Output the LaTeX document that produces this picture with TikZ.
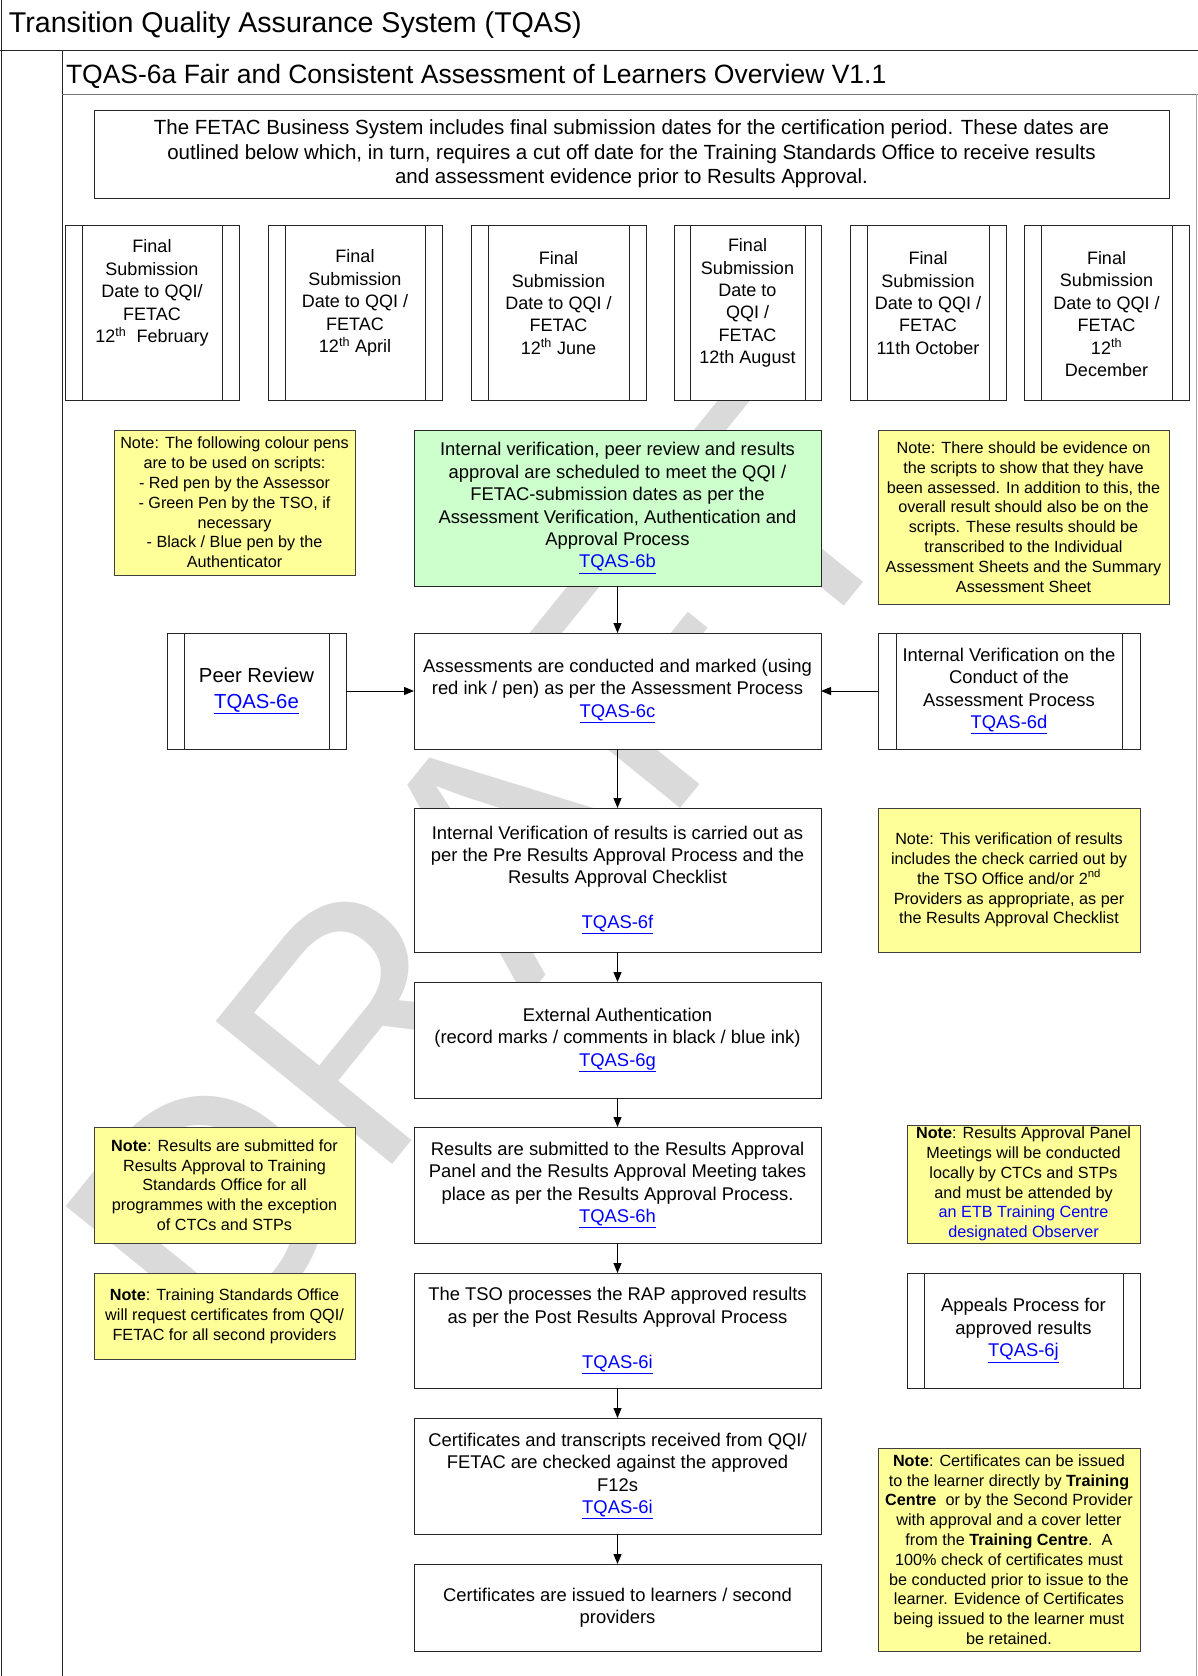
\documentclass[tikz,border=0pt]{standalone}
\usepackage{fontspec}
\setmainfont{Liberation Sans}
\usetikzlibrary{arrows.meta}
\definecolor{noteyellow}{HTML}{FFFF99}
\definecolor{vgreen}{HTML}{CCFFCC}
\definecolor{linkblue}{HTML}{0000FF}
\definecolor{wmgray}{HTML}{DADADA}
\newcommand\lnk[1]{\textcolor{linkblue}{\underline{#1}}}
\newcommand\fsz[2]{\fontsize{#1}{#2}\selectfont}
\newcommand\bars[2]{%
  \draw[barline] ([xshift=#2]#1.north west) -- ([xshift=#2]#1.south west);
  \draw[barline] ([xshift=-#2]#1.north east) -- ([xshift=-#2]#1.south east);}
\begin{document}
\begin{tikzpicture}[x=1pt,y=-1pt,
  every node/.style={inner sep=0pt, outer sep=0pt},
  sz/.style 2 args={minimum width=#1pt, minimum height=#2pt},
  proc/.style={draw=black!85, line width=1pt, fill=white, align=center, font=\fsz{18.4}{22.4}},
  datebox/.style={draw=black!85, line width=1pt, fill=white},
  dtxt/.style={align=center, font=\fsz{18}{22.4}},
  note/.style={draw=black!75, line width=1pt, fill=noteyellow, align=center, font=\fsz{16.2}{19.8}},
  greenbox/.style={draw=black!85, line width=1pt, fill=vgreen, align=center, font=\fsz{18.4}{22.4}},
  barline/.style={draw=black!85, line width=1pt},
  frame/.style={line width=1pt, draw=black!85},
  arr/.style={line width=1pt, -{Triangle[length=10pt,width=8pt]}}
]
\useasboundingbox (0,0) rectangle (1198,1676);
\fill[white] (0,0) rectangle (1198,1676);

% watermark
\node[rotate=51, text=wmgray, font=\fsz{330}{330}] (wm) at (483,872) {DRAFT};

% frame
\draw[frame] (1,0) -- (1,1676);
\draw[frame] (0,50) -- (1198,50);
\draw[frame] (62,50) -- (62,1676);
\draw[line width=1pt, black!55] (62,94) -- (1198,94);
\draw[line width=1pt, black!35] (1196,94) -- (1196,1676);

\node[anchor=base west, font=\fsz{28.6}{30}] (title) at (9,32) {Transition Quality Assurance System (TQAS)};
\node[anchor=base west, font=\fsz{26.5}{28}] (subtitle) at (66,83) {TQAS-6a Fair and Consistent Assessment of Learners Overview V1.1};

% intro
\node[proc, sz={1075}{88}, font=\fsz{20.5}{24.6}] (intro) at (631.5,154) {The FETAC Business System includes final submission dates for the certification period. These dates are\\outlined below which, in turn, requires a cut off date for the Training Standards Office to receive results\\and assessment evidence prior to Results Approval.};

% date boxes
\node[datebox, sz={174}{175}] (d1) at (152,312.5) {};
\node[datebox, sz={174}{175}] (d2) at (355,312.5) {};
\node[datebox, sz={175}{175}] (d3) at (558.5,312.5) {};
\node[datebox, sz={147}{175}] (d4) at (747.5,312.5) {};
\node[datebox, sz={156}{175}] (d5) at (928,312.5) {};
\node[datebox, sz={165}{175}] (d6) at (1106.5,312.5) {};
\bars{d1}{17}\bars{d2}{17}\bars{d3}{17}\bars{d4}{16}\bars{d5}{17}\bars{d6}{17}
\node[dtxt] (d1t) at (152,293) {Final\\Submission\\Date to QQI/\\FETAC\\12\textsuperscript{th}\ \ February};
\node[dtxt] (d2t) at (355,303) {Final\\Submission\\Date to QQI /\\FETAC\\12\textsuperscript{th} April};
\node[dtxt] (d3t) at (558.5,303) {Final\\Submission\\Date to QQI /\\FETAC\\12\textsuperscript{th} June};
\node[dtxt] (d4t) at (747.5,303) {Final\\Submission\\Date to\\QQI /\\FETAC\\12th August};
\node[dtxt] (d5t) at (928,303) {Final\\Submission\\Date to QQI /\\FETAC\\11th October};
\node[dtxt] (d6t) at (1106.5,314) {Final\\Submission\\Date to QQI /\\FETAC\\12\textsuperscript{th}\\December};

% row 3
\node[note, sz={241}{145}] (noteL1) at (234.5,502.5) {Note: The following colour pens\\are to be used on scripts:\\- Red pen by the Assessor\\- Green Pen by the TSO, if\\necessary\\- Black / Blue pen by the\\Authenticator};
\node[greenbox, sz={407}{156}] (green) at (617.5,508) {Internal verification, peer review and results\\approval are scheduled to meet the QQI /\\FETAC-submission dates as per the\\Assessment Verification, Authentication and\\Approval Process\\\lnk{TQAS-6b}};
\node[note, sz={291}{174}] (noteR1) at (1023.5,517) {Note: There should be evidence on\\the scripts to show that they have\\been assessed. In addition to this, the\\overall result should also be on the\\scripts. These results should be\\transcribed to the Individual\\Assessment Sheets and the Summary\\Assessment Sheet};

% row 4
\node[proc, sz={179}{116}, font=\fsz{20.3}{25.6}] (peer) at (256.5,691) {Peer Review\\\lnk{TQAS-6e}};
\bars{peer}{17}
\node[proc, sz={407}{116}] (assess) at (617.5,691) {Assessments are conducted and marked (using\\red ink / pen) as per the Assessment Process\\\lnk{TQAS-6c}};
\node[proc, sz={262}{116}] (iv) at (1009,691) {Internal Verification on the\\Conduct of the\\Assessment Process\\\lnk{TQAS-6d}};
\bars{iv}{18}

% row 5
\node[proc, sz={407}{144}] (ivres) at (617.5,880) {Internal Verification of results is carried out as\\per the Pre Results Approval Process and the\\Results Approval Checklist\\[22.4pt]\lnk{TQAS-6f}};
\node[note, sz={262}{144}] (noteR2) at (1009,880) {Note: This verification of results\\includes the check carried out by\\the TSO Office and/or 2\textsuperscript{nd}\\Providers as appropriate, as per\\the Results Approval Checklist};

% row 6
\node[proc, sz={407}{116}] (ext) at (617.5,1040) {External Authentication\\(record marks / comments in black / blue ink)\\\lnk{TQAS-6g}};

% row 7
\node[note, sz={261}{116}] (noteL2) at (224.5,1185) {\textbf{Note}: Results are submitted for\\Results Approval to Training\\Standards Office for all\\programmes with the exception\\of CTCs and STPs};
\node[proc, sz={407}{116}] (ressub) at (617.5,1185) {Results are submitted to the Results Approval\\Panel and the Results Approval Meeting takes\\place as per the Results Approval Process.\\\lnk{TQAS-6h}};
\node[note, sz={233}{118}] (noteR3) at (1023.5,1184) {\textbf{Note}: Results Approval Panel\\Meetings will be conducted\\locally by CTCs and STPs\\and must be attended by\\\textcolor{linkblue}{an ETB Training Centre}\\\textcolor{linkblue}{designated Observer}};

% row 8
\node[note, sz={261}{86}] (noteL3) at (224.5,1316) {\textbf{Note}: Training Standards Office\\will request certificates from QQI/\\FETAC for all second providers};
\node[proc, sz={407}{115}] (tso) at (617.5,1330.5) {The TSO processes the RAP approved results\\as per the Post Results Approval Process\\[22.4pt]\lnk{TQAS-6i}};
\node[proc, sz={233}{115}] (appeal) at (1023.5,1330.5) {Appeals Process for\\approved results\\\lnk{TQAS-6j}};
\bars{appeal}{17}

% row 9
\node[proc, sz={407}{116}] (certchk) at (617.5,1476) {Certificates and transcripts received from QQI/\\FETAC are checked against the approved\\F12s\\\lnk{TQAS-6i}};
\node[note, sz={262}{203}] (noteR4) at (1009,1549.5) {\textbf{Note}: Certificates can be issued\\to the learner directly by \textbf{Training}\\\textbf{Centre}\ \ or by the Second Provider\\with approval and a cover letter\\from the \textbf{Training Centre}.\ \ A\\100\% check of certificates must\\be conducted prior to issue to the\\learner. Evidence of Certificates\\being issued to the learner must\\be retained.};

% row 10
\node[proc, sz={407}{87}] (certiss) at (617.5,1607.5) {Certificates are issued to learners / second\\providers};

% connectors
\draw[arr] (green) -- (assess);
\draw[arr] (peer) -- (assess);
\draw[arr] (iv) -- (assess);
\draw[arr] (assess) -- (ivres);
\draw[arr] (ivres) -- (ext);
\draw[arr] (ext) -- (ressub);
\draw[arr] (ressub) -- (tso);
\draw[arr] (tso) -- (certchk);
\draw[arr] (certchk) -- (certiss);
\end{tikzpicture}
\end{document}
